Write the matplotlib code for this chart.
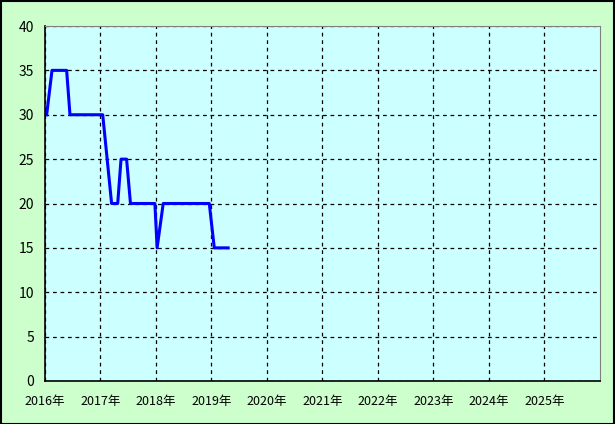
import matplotlib
matplotlib.use("Agg")
import matplotlib.pyplot as plt
from matplotlib.patches import Rectangle

plt.rcParams["font.family"] = ["Noto Sans CJK JP", "DejaVu Sans"]

# points (x in decimal years)
years = [2016.03, 2016.126, 2016.39, 2016.45, 2017.04, 2017.20, 2017.31, 2017.37,
         2017.47, 2017.54, 2017.98, 2018.02, 2018.13, 2018.96, 2019.05, 2019.30]
values = [30, 35, 35, 30, 30, 20, 20, 25, 25, 20, 20, 15, 20, 20, 15, 15]

tick_years = list(range(2016, 2026))
tick_labels = [f"{y}年" for y in tick_years]
y_ticks = [0, 5, 10, 15, 20, 25, 30, 35, 40]

fig = plt.figure(figsize=(6.15, 4.24), dpi=100, facecolor="#CCFFCC")
ax = fig.add_axes([45 / 615, 1 - 381 / 424, 555 / 615, 355 / 424])
ax.set_facecolor("#CCFFFF")

ax.plot(years, values, color="#0000FF", lw=2.2)

ax.set_xlim(2016, 2026)
ax.set_ylim(0, 40)
ax.set_xticks(tick_years)
ax.set_xticklabels(tick_labels, fontsize=9)
ax.set_yticks(y_ticks)
ax.set_yticklabels([str(v) for v in y_ticks], fontsize=10)
ax.tick_params(length=0, pad=10)
ax.tick_params(axis="y", pad=8)
ax.grid(True, color="black", linestyle=(0, (3, 3)), lw=0.9)

for side in ["top", "right"]:
    ax.spines[side].set_color("#808080")
for side in ["left", "bottom"]:
    ax.spines[side].set_color("black")
    ax.spines[side].set_linewidth(1.2)

# outer border
fig.patches.append(Rectangle((0.001, 0.001), 0.997, 0.997, transform=fig.transFigure,
                             fill=False, edgecolor="black", lw=1.5))

fig.savefig("out.png", dpi=100, facecolor=fig.get_facecolor())
